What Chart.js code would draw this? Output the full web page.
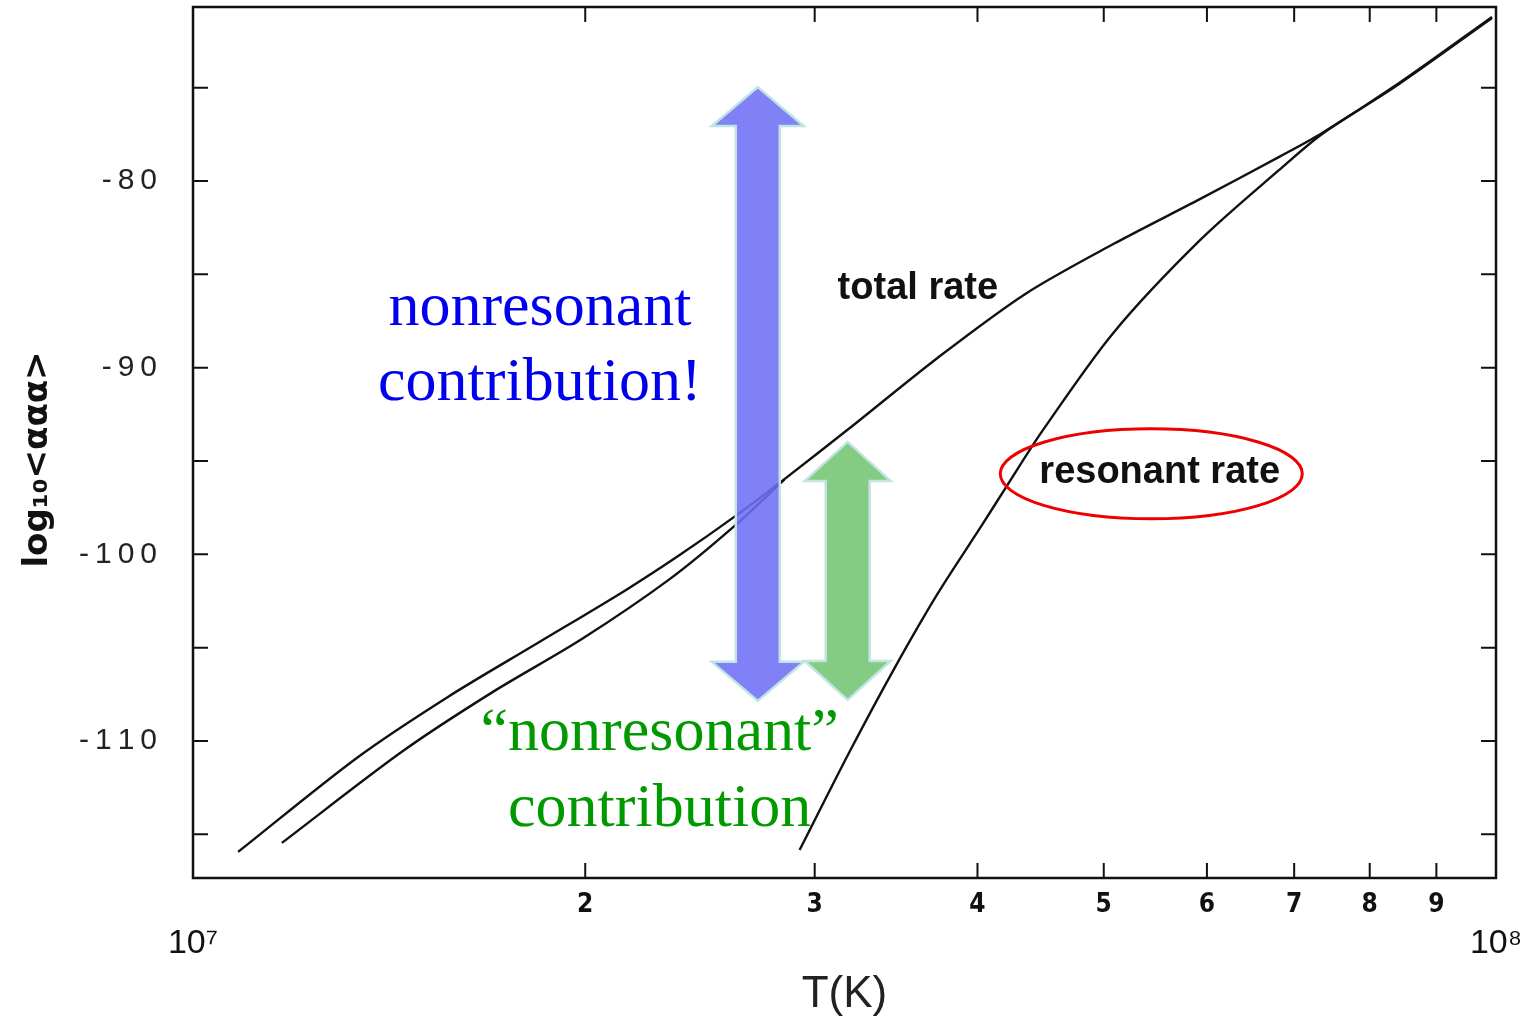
<!DOCTYPE html>
<html>
<head>
<meta charset="utf-8">
<script src="https://cdn.jsdelivr.net/npm/chart.js@4.4.1/dist/chart.umd.min.js"></script>
<style>
  html, body { margin: 0; padding: 0; background: #fff; }
  canvas { display: block; }
</style>
</head>
<body>
<canvas id="rateChart" width="1539" height="1017"></canvas>
<script>
// temperatures (K) and log10 <ααα>
const totalT    = [1.083e7, 1.338e7, 1.569e7, 1.836e7, 2.148e7, 2.363e7, 2.604e7, 2.844e7, 3.19e7, 3.727e7, 4.353e7, 5.085e7, 5.93e7, 6.817e7, 7.355e7, 8.427e7, 9.93e7];
const totalRate = [-115.94, -110.87, -107.64, -104.78, -101.92, -100.04, -97.98, -95.97, -93.25, -89.48, -86.05, -83.38, -80.96, -78.71, -77.43, -74.75, -71.21];

const nonresT    = [1.17e7, 1.449e7, 1.699e7, 1.988e7, 2.326e7, 2.604e7, 2.844e7];
const nonresRate = [-115.46, -110.54, -107.37, -104.54, -101.29, -98.48, -95.99];

const resT    = [2.921e7, 3.19e7, 3.448e7, 3.727e7, 4.028e7, 4.217e7, 4.486e7, 5.085e7, 5.93e7, 6.817e7, 7.355e7, 8.427e7, 9.93e7];
const resRate = [-115.84, -110.59, -106.20, -102.12, -98.48, -96.29, -93.39, -88.14, -83.16, -79.41, -77.48, -74.80, -71.27];

const xTicks = [1e7, 2e7, 3e7, 4e7, 5e7, 6e7, 7e7, 8e7, 9e7, 1e8];
const yTicks = [-110, -100, -90, -80];
const yMinorTicks = [-115, -105, -95, -85, -75];

const toPoints = (xs, ys) => xs.map((x, i) => ({ x: x, y: ys[i] }));

// annotation anchors in data units
const arrows = [
  { x: 2.713e7, y0: -107.85, y1: -74.97, fill: 'rgba(110,110,246,0.88)', edge: '#bfe4e4', head: 46 },
  { x: 3.18e7,  y0: -107.8,  y1: -93.98, fill: '#84cc84', edge: '#c4e4e4', head: 43 }
];
const notes = [
  { text: 'nonresonant',     x: 1.846e7, y: -87.71,  align: 'center', color: '#0000ee', font: '62px "Liberation Serif", serif' },
  { text: 'contribution!',   x: 1.846e7, y: -91.73,  align: 'center', color: '#0000ee', font: '62px "Liberation Serif", serif' },
  { text: '\u201cnonresonant\u201d', x: 2.281e7, y: -110.48, align: 'center', color: '#009a00', font: '62px "Liberation Serif", serif' },
  { text: 'contribution',    x: 2.281e7, y: -114.55, align: 'center', color: '#009a00', font: '62px "Liberation Serif", serif' },
  { text: 'total rate',      x: 3.124e7, y: -86.32,  align: 'left',   color: '#111',    font: 'bold 38px "Liberation Sans", sans-serif' },
  { text: 'resonant rate',   x: 4.462e7, y: -96.18,  align: 'left',   color: '#111',    font: 'bold 38px "Liberation Sans", sans-serif' }
];
const ring = { x: 5.438e7, y: -95.69, rx: 151, ry: 45 };

const framePlugin = {
  id: 'frame',
  afterDatasetsDraw(chart) {
    const { ctx, chartArea: a, scales: { x, y } } = chart;
    ctx.save();

    // arrows
    arrows.forEach(ar => {
      const cx = x.getPixelForValue(ar.x);
      const top = y.getPixelForValue(ar.y1);
      const bot = y.getPixelForValue(ar.y0);
      const hl = 39, hw = ar.head, sw = 22;
      ctx.beginPath();
      ctx.moveTo(cx, top);
      ctx.lineTo(cx + hw, top + hl);
      ctx.lineTo(cx + sw, top + hl);
      ctx.lineTo(cx + sw, bot - hl);
      ctx.lineTo(cx + hw, bot - hl);
      ctx.lineTo(cx, bot);
      ctx.lineTo(cx - hw, bot - hl);
      ctx.lineTo(cx - sw, bot - hl);
      ctx.lineTo(cx - sw, top + hl);
      ctx.lineTo(cx - hw, top + hl);
      ctx.closePath();
      ctx.fillStyle = ar.fill;
      ctx.fill();
      ctx.lineWidth = 2.5;
      ctx.strokeStyle = ar.edge;
      ctx.stroke();
    });

    // labels
    ctx.textBaseline = 'alphabetic';
    notes.forEach(n => {
      ctx.font = n.font;
      ctx.fillStyle = n.color;
      ctx.textAlign = n.align;
      ctx.fillText(n.text, x.getPixelForValue(n.x), y.getPixelForValue(n.y));
    });

    // red ring round "resonant rate"
    ctx.beginPath();
    ctx.ellipse(x.getPixelForValue(ring.x), y.getPixelForValue(ring.y), ring.rx, ring.ry, 0, 0, Math.PI * 2);
    ctx.lineWidth = 3;
    ctx.strokeStyle = '#ee0000';
    ctx.stroke();

    // frame with inward ticks
    ctx.strokeStyle = '#111';
    ctx.lineWidth = 2.5;
    ctx.strokeRect(a.left, a.top, a.right - a.left, a.bottom - a.top);
    ctx.lineWidth = 2;
    const tl = 15;
    ctx.beginPath();
    yTicks.concat(yMinorTicks).forEach(v => {
      const py = y.getPixelForValue(v);
      ctx.moveTo(a.left, py); ctx.lineTo(a.left + tl, py);
      ctx.moveTo(a.right, py); ctx.lineTo(a.right - tl, py);
    });
    xTicks.slice(1, -1).forEach(v => {
      const px = x.getPixelForValue(v);
      ctx.moveTo(px, a.bottom); ctx.lineTo(px, a.bottom - tl);
      ctx.moveTo(px, a.top); ctx.lineTo(px, a.top + tl);
    });
    ctx.stroke();
    ctx.restore();
  }
};

const lineStyle = { borderColor: '#111', borderWidth: 2.4, pointRadius: 0, fill: false, tension: 0.3 };

new Chart(document.getElementById('rateChart'), {
  type: 'line',
  data: {
    datasets: [
      Object.assign({ label: 'total rate', data: toPoints(totalT, totalRate) }, lineStyle),
      Object.assign({ label: 'nonresonant', data: toPoints(nonresT, nonresRate) }, lineStyle),
      Object.assign({ label: 'resonant rate', data: toPoints(resT, resRate) }, lineStyle)
    ]
  },
  options: {
    responsive: false,
    animation: false,
    layout: { padding: { left: 0, right: 43, top: 7, bottom: 0 } },
    plugins: { legend: { display: false }, tooltip: { enabled: false } },
    scales: {
      x: {
        type: 'logarithmic',
        min: 1e7,
        max: 1e8,
        afterBuildTicks: s => { s.ticks = xTicks.map(v => ({ value: v })); },
        afterFit: s => { s.height = 139; s.paddingLeft = 0; s.paddingRight = 0; },
        grid: { display: false, drawTicks: false },
        border: { display: false },
        ticks: {
          autoSkip: false,
          maxRotation: 0,
          padding: 12,
          color: '#111',
          font: c => (c.tick && (c.tick.value === 1e7 || c.tick.value === 1e8))
            ? { family: '"Liberation Sans", sans-serif', size: 34, lineHeight: 1.05 }
            : { family: '"DejaVu Sans Condensed", "DejaVu Sans", sans-serif', size: 26, weight: 'bold' },
          callback: v => v === 1e7 ? ['', '10\u2077'] : v === 1e8 ? ['', '10\u2078'] : String(Math.round(v / 1e7))
        },
        title: { display: true, text: 'T(K)', color: '#222', font: { family: '"Liberation Sans", sans-serif', size: 44, lineHeight: 1.0 }, padding: { top: 0, bottom: 0 } }
      },
      y: {
        min: -117.34,
        max: -70.68,
        afterBuildTicks: s => { s.ticks = yTicks.map(v => ({ value: v })); },
        afterFit: s => { s.width = 193; s.paddingTop = 0; s.paddingBottom = 0; },
        grid: { display: false, drawTicks: false },
        border: { display: false },
        ticks: {
          padding: 36,
          color: '#222',
          font: { family: '"Liberation Sans", sans-serif', size: 30 },
          callback: v => String(v).split('').join('\u2009')
        },
        title: { display: true, text: 'log\u2081\u2080<\u03b1\u03b1\u03b1>\u2003', color: '#111', font: { family: '"DejaVu Sans", sans-serif', size: 34, weight: 'bold' }, padding: { top: 18, bottom: 0 } }
      }
    }
  },
  plugins: [framePlugin]
});
</script>
</body>
</html>
